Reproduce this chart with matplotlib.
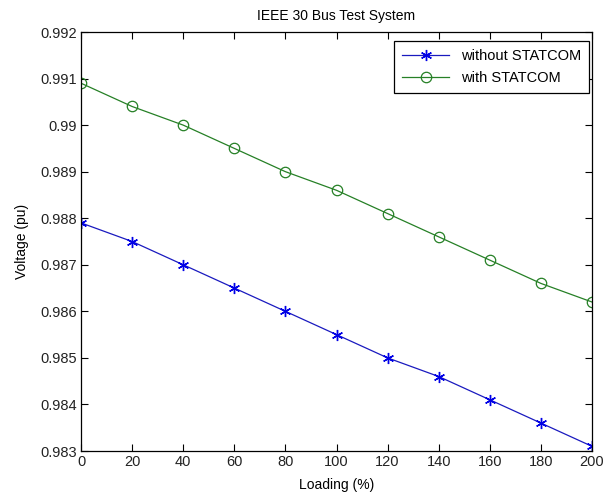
import matplotlib
matplotlib.use("Agg")
import matplotlib.pyplot as plt

plt.rcParams['font.family'] = ['Liberation Sans', 'DejaVu Sans']

loading = [0, 20, 40, 60, 80, 100, 120, 140, 160, 180, 200]
without_statcom = [0.9879, 0.9875, 0.9870, 0.9865, 0.9860, 0.9855,
                   0.9850, 0.9846, 0.9841, 0.9836, 0.9831]
with_statcom = [0.9909, 0.9904, 0.9900, 0.9895, 0.9890, 0.9886,
                0.9881, 0.9876, 0.9871, 0.9866, 0.9862]
xticks = [0, 20, 40, 60, 80, 100, 120, 140, 160, 180, 200]
yticks = [0.983, 0.984, 0.985, 0.986, 0.987, 0.988, 0.989, 0.99, 0.991, 0.992]
ytick_labels = ['0.983', '0.984', '0.985', '0.986', '0.987', '0.988',
                '0.989', '0.99', '0.991', '0.992']

fig = plt.figure(figsize=(6.13, 4.98), dpi=100)
ax = fig.add_axes([81 / 613, 1 - 451 / 498, (592 - 81) / 613, (451 - 32) / 498])

# MATLAB-style six-arm asterisk marker
ax.plot(loading, without_statcom, color=(0.1, 0.1, 0.75), lw=0.9,
        marker=(6, 2, 0), ms=8, mew=1.0, mec=(0, 0, 0.9),
        label='without STATCOM')
ax.plot(loading, with_statcom, color=(0.15, 0.5, 0.15), lw=0.9, marker='o',
        ms=7.5, mfc='none', mew=0.9, label='with STATCOM')

ax.set_xlim(0, 200)
ax.set_ylim(0.983, 0.992)
ax.set_xticks(xticks)
ax.set_xticklabels([str(v) for v in xticks])
ax.set_yticks(yticks)
ax.set_yticklabels(ytick_labels)
ax.tick_params(direction='in', top=True, right=True, labelsize=10.5,
               length=5, width=0.8, pad=3, labelcolor='#222222')
for s in ax.spines.values():
    s.set_linewidth(0.9)

ax.set_title('IEEE 30 Bus Test System', fontsize=10, pad=8.5)
ax.set_xlabel('Loading (%)', fontsize=10, labelpad=6)
ax.set_ylabel('Voltage (pu)', fontsize=10, labelpad=8)

leg = ax.legend(loc='upper right', bbox_to_anchor=(589 / 613, 1 - 41 / 498),
                bbox_transform=fig.transFigure, fontsize=10.5, fancybox=False,
                edgecolor='black', framealpha=1, borderaxespad=0,
                handlelength=3.2, borderpad=0.55, labelspacing=0.55)
leg.get_frame().set_linewidth(0.9)

fig.savefig('out.png', dpi=100)
